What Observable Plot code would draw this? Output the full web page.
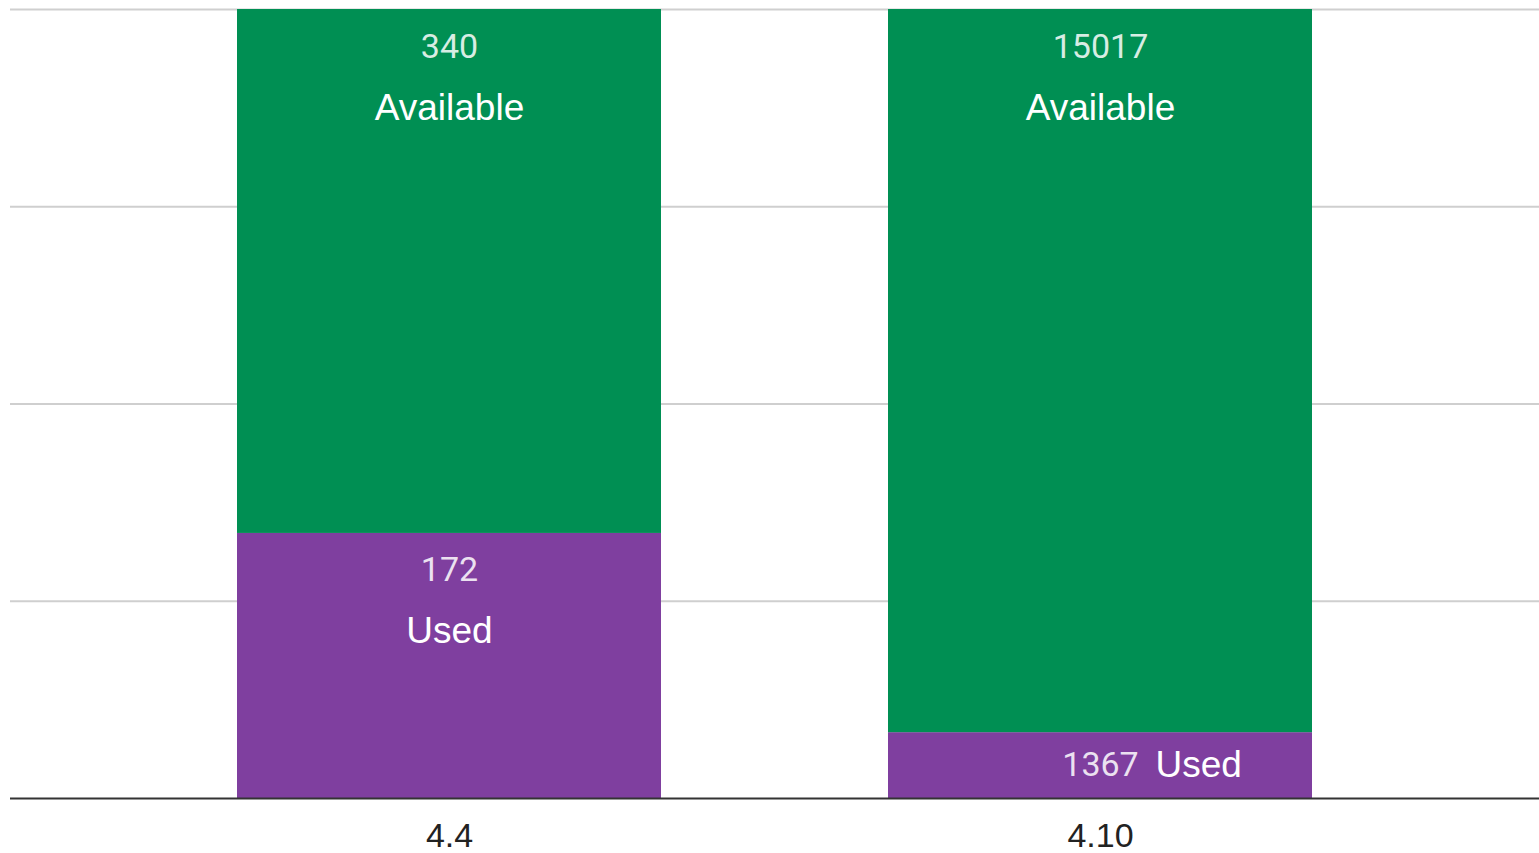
<!DOCTYPE html>
<html>
<head>
<meta charset="utf-8">
<script src="https://cdn.jsdelivr.net/npm/d3@7"></script>
<script src="https://cdn.jsdelivr.net/npm/@observablehq/plot@0.6"></script>
<style>
  html, body { margin: 0; padding: 0; background: #fff; }
  #chart svg { display: block; }
</style>
</head>
<body>
<div id="chart"></div>
<script>
const versions = ["4.4", "4.10"];
const series = ["Used", "Available"];
const used = [172, 1367];
const available = [340, 15017];
const gridFractions = [0.25, 0.5, 0.75, 1];

const rows = versions.flatMap((v, i) => [
  {version: v, series: "Used", value: used[i], total: used[i] + available[i]},
  {version: v, series: "Available", value: available[i], total: used[i] + available[i]}
]);
const isSmall = d => d.value / d.total < 0.15;

const white = "#ffffff";
const numFont = "Roboto, 'Liberation Sans', Arial, sans-serif";
const wordFont = "'Liberation Sans', Arial, Helvetica, sans-serif";

const stackBase = {x: "version", y: "value", z: "series", offset: "normalize"};

const chart = Plot.plot({
  width: 1539,
  height: 853,
  marginLeft: 10,
  marginRight: 0,
  marginTop: 9,
  marginBottom: 55,
  style: {fontSize: "34px", fontFamily: wordFont, color: "#222", background: "#fff"},
  x: {domain: versions, paddingInner: 0.348, paddingOuter: 0.3466, tickSize: 0, tickPadding: 24, label: null},
  y: {domain: [0, 1], axis: null},
  color: {domain: series, range: ["#7f3f9f", "#008f53"]},
  marks: [
    Plot.ruleY(gridFractions, {stroke: "#cfcfcf", strokeWidth: 2}),
    Plot.barY(rows, {...stackBase, fill: "series"}),
    Plot.ruleY([0], {stroke: "#333", strokeWidth: 2}),
    // large segments: number then label, anchored at segment top
    Plot.text(rows, Plot.stackY2({...stackBase,
      text: d => isSmall(d) ? null : String(d.value),
      lineAnchor: "bottom", dy: 48, fill: white, fillOpacity: 0.85,
      fontFamily: numFont, fontSize: 34})),
    Plot.text(rows, Plot.stackY2({...stackBase,
      text: d => isSmall(d) ? null : d.series,
      lineAnchor: "bottom", dy: 110, fill: white,
      fontFamily: wordFont, fontSize: 37})),
    // small segments: number at centre, label to the right, both at segment middle
    Plot.text(rows, Plot.stackY({...stackBase,
      text: d => isSmall(d) ? String(d.value) : null,
      lineAnchor: "middle", fill: white, fillOpacity: 0.85,
      fontFamily: numFont, fontSize: 34})),
    Plot.text(rows, Plot.stackY({...stackBase,
      text: d => isSmall(d) ? d.series : null,
      lineAnchor: "middle", textAnchor: "start", dx: 55, fill: white,
      fontFamily: wordFont, fontSize: 37}))
  ]
});
document.getElementById("chart").append(chart);
</script>
</body>
</html>
